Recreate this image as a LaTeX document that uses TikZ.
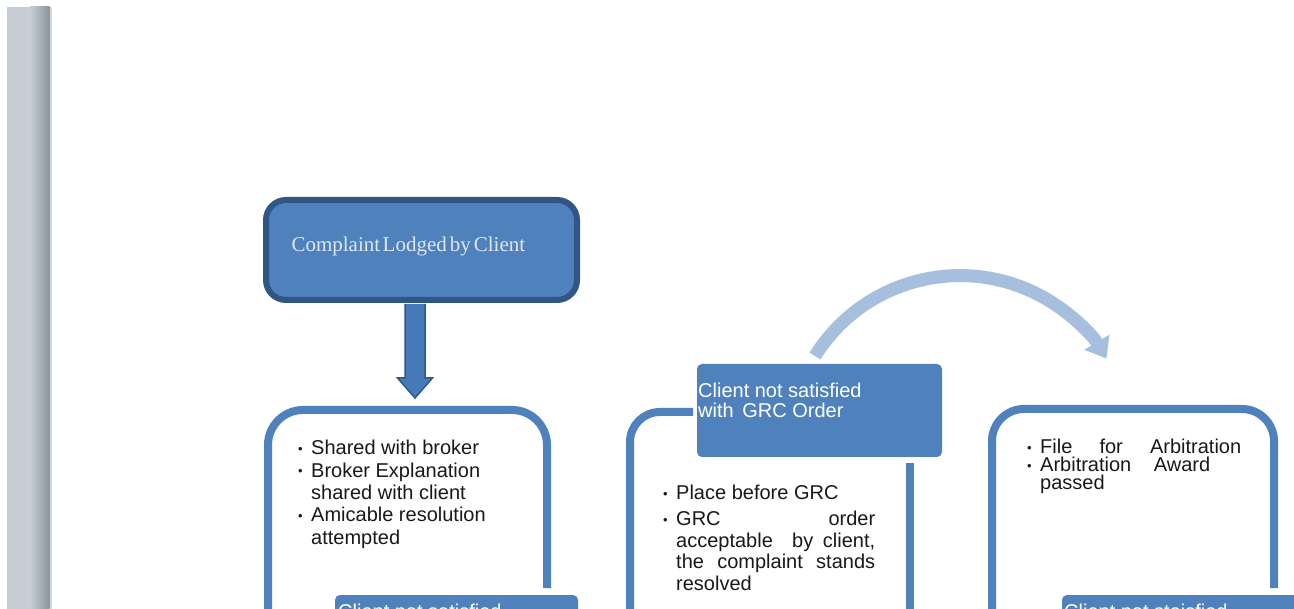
\documentclass[tikz,border=0pt]{standalone}
\usepackage{fontspec}
\setmainfont{Liberation Sans}
\newfontfamily\serifttl{Liberation Serif}
\usetikzlibrary{arrows.meta,calc}
\definecolor{boxblue}{RGB}{79,129,189}
\definecolor{boxedge}{RGB}{48,86,134}
\definecolor{arrblue}{RGB}{70,122,184}
\definecolor{arredge}{RGB}{45,88,140}
\definecolor{lightarr}{RGB}{167,191,222}
\definecolor{titletext}{RGB}{222,232,244}
\definecolor{bartone}{RGB}{198,205,212}
\definecolor{bardark}{RGB}{138,147,156}
\definecolor{barlight}{RGB}{212,217,222}
\definecolor{bodytext}{RGB}{25,25,25}
\newcommand{\bul}{\makebox[13pt][l]{\raisebox{1.5pt}{\fontsize{13}{13}\selectfont\textbullet}}}
\newcommand{\ind}{\hspace*{13pt}}
\newcommand{\stack}[2]{\vtop{\baselineskip=#1\lineskiplimit=-100pt\relax\lineskip=0pt\relax #2}}
\tikzset{
  frame/.style={draw=boxblue, line width=8pt},
  titlebox/.style={draw=boxedge, line width=6pt, fill=boxblue, rounded corners=20pt,
    minimum width=311pt, minimum height=100pt, text width=260pt, inner xsep=25.5pt,
    align=left, text=titletext, font=\serifttl\fontsize{21}{24}\selectfont,
    text height=12pt, text depth=8pt},
  labelbox/.style={fill=boxblue, rounded corners=5pt, inner sep=0pt},
  labeltxt/.style={text=white, inner sep=0pt, font=\fontsize{20}{20}\selectfont, align=left},
  bodytxt/.style={text=bodytext, inner sep=0pt, font=\fontsize{20}{22}\selectfont},
  blockarrow/.style={fill=arrblue, draw=arredge, line width=1.5pt, line join=miter},
  curvearrow/.style={draw=lightarr, line width=13pt, -{Triangle[width=28pt,length=19pt]}}
}
\begin{document}
\begin{tikzpicture}[x=1pt,y=-1pt]
\useasboundingbox (0,0) rectangle (1294,609);
\clip (0,0) rectangle (1294,609);
\fill[white] (0,0) rectangle (1294,609);
% left bar
\fill[bartone] (7,7) rectangle (30,620);
\shade[left color=bartone, right color=bardark] (30,7) rectangle (49.5,620);
\fill[barlight] (49.5,7) rectangle (52,620);

% frames
\draw[frame, rounded corners=35pt] (268,640) |- (547,410) -- (547,588);
\draw[frame, rounded corners=30pt] (630,640) |- (693,412);
\draw[frame] (909.5,463) -- (909.5,640);
\draw[frame, rounded corners=32pt] (992,640) |- (1274,409) -- (1274,588);

% down block arrow, then the title box over its top end
\coordinate (arrtop) at (415,300);
\coordinate (f2top) at (415,398);
\draw[blockarrow] ($(arrtop)+(-10,4)$) -- ($(f2top)+(-10,-20)$) -- ($(f2top)+(-17.5,-20)$)
  -- (f2top) -- ($(f2top)+(17.5,-20)$) -- ($(f2top)+(10,-20)$) -- ($(arrtop)+(10,4)$);
\node[titlebox] (lodge) at (421.5,250) {Complaint\hspace{2.5pt}Lodged\hspace{3pt}by\hspace{3pt}Client};

% label boxes
\node[labelbox, minimum width=245pt, minimum height=93pt] (l3) at (819.5,410.5) {};
\node[labeltxt, anchor=base west] (l3t) at (698,398)
  {\stack{20pt}{\hbox{Client not satisfied}\hbox{with\hspace{3pt} GRC Order}}};
\node[labelbox, minimum width=243pt, minimum height=94pt] (l2) at (456.5,642) {};
\node[labeltxt, anchor=base west] (l2t) at (338,618) {Client not satisfied};
\node[labelbox, minimum width=248pt, minimum height=95pt] (l4) at (1186,642.5) {};
\node[labeltxt, anchor=base west] (l4t) at (1064,618) {Client not staisfied};

% curved arrow
\coordinate (arcstart) at (815,356);
\draw[curvearrow] (arcstart) arc[start angle=148, end angle=31, radius=171pt];

% bullet texts
\node[bodytxt, anchor=base west] (t2) at (298,455) {\stack{22.3pt}{%
  \hbox{\bul Shared with broker}
  \hbox{\bul Broker Explanation}
  \hbox{\ind shared with client}
  \hbox{\bul Amicable resolution}
  \hbox{\ind attempted}}};
\node[bodytxt, anchor=base west] (t3) at (663,500) {\stack{21.5pt}{%
  \hbox{\bul Place before GRC}
  \vskip 4.5pt
  \hbox{\bul\makebox[199pt][s]{GRC order}}
  \hbox{\ind\makebox[199pt][s]{acceptable\ \ by client,}}
  \hbox{\ind\makebox[199pt][s]{the complaint stands}}
  \hbox{\ind resolved}}};
\node[bodytxt, anchor=base west] (t4) at (1027,454) {\stack{18pt}{%
  \hbox{\bul\makebox[201pt][s]{File for Arbitration}}
  \hbox{\bul\makebox[170pt][s]{Arbitration Award}}
  \hbox{\ind passed}}};
\end{tikzpicture}
\end{document}
